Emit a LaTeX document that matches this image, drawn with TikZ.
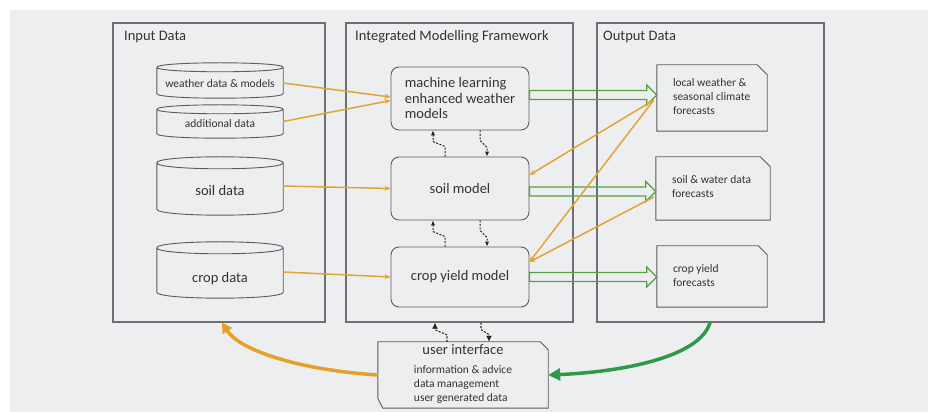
\documentclass[tikz,border=0pt]{standalone}
\usepackage{fontspec}
\setmainfont{Carlito}
\usetikzlibrary{arrows.meta,calc}
\definecolor{bgc}{HTML}{EDEEF0}
\definecolor{panelc}{HTML}{6E6F72}
\definecolor{shapec}{HTML}{5A5B5E}
\definecolor{orc}{HTML}{E2A534}
\definecolor{orthick}{HTML}{E5A02A}
\definecolor{grc}{HTML}{58A03E}
\definecolor{grthick}{HTML}{2E9A48}
\definecolor{txtc}{HTML}{333333}
\newcommand\bigf{\fontsize{14.5}{15.5}\selectfont}
\newcommand\smallf{\fontsize{11.5}{14}\selectfont}
\newcommand\cyl[2]{%
 \draw[shp] let \p1=(#1.north west), \p2=(#1.south east) in
  (\x1,\y1-#2pt) -- (\x1,\y2+#2pt) .. controls (\x1,\y2-0.333*#2pt) and (\x2,\y2-0.333*#2pt) .. (\x2,\y2+#2pt) -- (\x2,\y1-#2pt) .. controls (\x2,\y1+0.333*#2pt) and (\x1,\y1+0.333*#2pt) .. (\x1,\y1-#2pt)
  (\x1,\y1-#2pt) .. controls (\x1,\y1-2.333*#2pt) and (\x2,\y1-2.333*#2pt) .. (\x2,\y1-#2pt);}
\newcommand\docsh[2]{\draw[shp] (#1.south west) -- (#1.north west) -- ([xshift=-#2pt]#1.north east) -- ([yshift=-#2pt]#1.north east) -- (#1.south east) -- cycle;}
\newcommand\blockarrow[3]{%
 \draw[garrow] let \p1=([yshift=#3]#1.east), \p2=(#2.west) in
   (\x1,\y1+4.5pt) -- (\x2-10pt,\y1+4.5pt) -- (\x2-10pt,\y1+10pt) -- (\x2,\y1) -- (\x2-10pt,\y1-10pt) -- (\x2-10pt,\y1-4.5pt) -- (\x1,\y1-4.5pt) -- cycle;}
\begin{document}
\begin{tikzpicture}[x=1pt,y=1pt,
  every node/.style={text=txtc, inner sep=0pt},
  panelbox/.style={draw=panelc, line width=1.2pt, rectangle},
  ptitle/.style={font=\bigf, anchor=base west},
  shp/.style={draw=shapec, line width=0.9pt},
  cylnode/.style={minimum width=126pt},
  modelbox/.style={shp, rounded corners=8pt, minimum width=138pt, font=\bigf, align=left},
  docnode/.style={rectangle},
  doctext/.style={anchor=west, xshift=16pt, align=left, font=\smallf},
  orarrow/.style={draw=orc, line width=1.5pt, -{Stealth[length=6pt,width=5pt]}},
  garrow/.style={draw=grc, line width=1.2pt, line join=miter},
  dsh/.style={draw=black!85, line width=1pt, dash pattern=on 2pt off 1.5pt, -{Latex[length=5pt,width=4.5pt]}},
  dshb/.style={draw=black!85, line width=1.1pt, dash pattern=on 2pt off 1.5pt, -{Latex[length=6pt,width=6pt]}},
  thickor/.style={draw=orthick, line width=3.5pt, -{Triangle[length=10pt,width=11pt]}},
  thickgr/.style={draw=grthick, line width=3.5pt, -{Triangle[length=12pt,width=12pt]}}]
\useasboundingbox (0,0) rectangle (935,412);
\fill[bgc] (10,0) rectangle (928,402);
% panels
\node[panelbox, minimum width=212pt, minimum height=299pt] (inp) at (219,239.5) {};
\node[panelbox, minimum width=227pt, minimum height=299pt] (frm) at (459.5,239.5) {};
\node[panelbox, minimum width=227pt, minimum height=299pt] (out) at (710.5,239.5) {};
\node[ptitle] (tinp) at (124,371) {Input Data};
\node[ptitle] (tfrm) at (355,371) {Integrated Modelling Framework};
\node[ptitle] (tout) at (603,371) {Output Data};
% cylinders
\node[cylnode, minimum height=35pt, label={[font=\smallf, yshift=-3.5pt]center:weather data \& models}] (wdm) at (220,331.5) {};
\cyl{wdm}{4.5}
\node[cylnode, minimum height=33pt, label={[font=\smallf, yshift=-2.5pt]center:additional data}] (add) at (220,290.5) {};
\cyl{add}{4.5}
\node[cylnode, minimum height=58pt, label={[font=\bigf, yshift=-5pt]center:soil data}] (soil) at (220,226) {};
\cyl{soil}{6}
\node[cylnode, minimum height=56pt, label={[font=\bigf, yshift=-9pt]center:crop data}] (crop) at (220,142) {};
\cyl{crop}{6}
% models
\node[modelbox, minimum height=63pt] (ml) at (460,313.5) {machine learning\\enhanced weather\\models};
\node[modelbox, minimum height=63pt] (sm) at (460,223.5) {soil model};
\node[modelbox, minimum height=60pt] (cm) at (460,135) {crop yield model};
% outputs
\node[docnode, minimum width=110pt, minimum height=66pt, label={[doctext, yshift=1pt]west:local weather \&\\seasonal climate\\forecasts}] (lw) at (712,314) {};
\docsh{lw}{10}
\node[docnode, minimum width=114pt, minimum height=63pt, label={[doctext, yshift=2pt]west:soil \& water data\\forecasts}] (sw) at (713,223.5) {};
\docsh{sw}{10}
\node[docnode, minimum width=110pt, minimum height=61pt, label={[doctext, yshift=1pt]west:crop yield\\forecasts}] (cy) at (712,135.5) {};
\docsh{cy}{9}
% user interface
\node[minimum width=170pt, minimum height=66pt, font=\smallf] (ui) at (463,37) {\begin{tabular}{@{}l@{}}\multicolumn{1}{@{}c@{}}{\bigf user interface}\\[5pt] information \& advice\\ data management\\ user generated data\end{tabular}};
\draw[shp] (ui.north west) -- ([xshift=-8pt]ui.north east) -- ([yshift=-8pt]ui.north east) -- (ui.south east) -- ([xshift=5pt]ui.south west) -- ([yshift=10pt]ui.south west) -- cycle;
% green block arrows
\blockarrow{ml}{lw}{3.5pt}
\blockarrow{sm}{sw}{-3pt}
\blockarrow{cm}{cy}{0pt}
% orange arrows
\draw[orarrow] ([yshift=-2.5pt]wdm.east) -- ([yshift=1.5pt]ml.west);
\draw[orarrow] (add.east) -- ([yshift=-2pt]ml.west);
\draw[orarrow] (soil.east) -- (sm.west);
\draw[orarrow] ([yshift=-2pt]crop.east) -- (cm.west);
\draw[orarrow] ([yshift=-2pt,xshift=-3pt]lw.west) -- ([yshift=13.5pt]sm.east);
\draw[orarrow] ([yshift=-2pt,xshift=-3pt]lw.west) -- ([yshift=15pt]cm.east);
\draw[orarrow] ([yshift=-8.5pt,xshift=-2pt]sw.west) -- ([yshift=15pt]cm.east);
% dashed links
\draw[dsh] ([xshift=-15pt]sm.north) -- ++(0,10pt) -- ++(-12pt,5pt) -- ([xshift=-27pt]ml.south);
\draw[dsh] ([xshift=20pt]ml.south) -- ++(0,-10pt) -- ++(7pt,-7pt) -- ([xshift=27pt]sm.north);
\draw[dsh] ([xshift=-15pt]cm.north) -- ++(0,10pt) -- ++(-12pt,5pt) -- ([xshift=-27pt]sm.south);
\draw[dsh] ([xshift=20pt]sm.south) -- ++(0,-10pt) -- ++(7pt,-7pt) -- ([xshift=27pt]cm.north);
\draw[dshb] ([xshift=-16pt]ui.north) -- ++(0,7pt) -- ++(-12pt,5pt) -- ([xshift=-24.5pt]frm.south);
\draw[dshb] ([xshift=21.5pt]frm.south) -- ++(0,-7pt) -- ++(8pt,-5pt) -- ([xshift=26pt]ui.north);
% thick curved arrows
\draw[thickor] (ui.west) .. controls +(-78pt,5pt) and +(18pt,-28pt) .. ([xshift=3pt]inp.south);
\draw[thickgr] ([xshift=-0.5pt]out.south) .. controls +(-10pt,-35pt) and +(72pt,3pt) .. (ui.east);
\end{tikzpicture}
\end{document}
